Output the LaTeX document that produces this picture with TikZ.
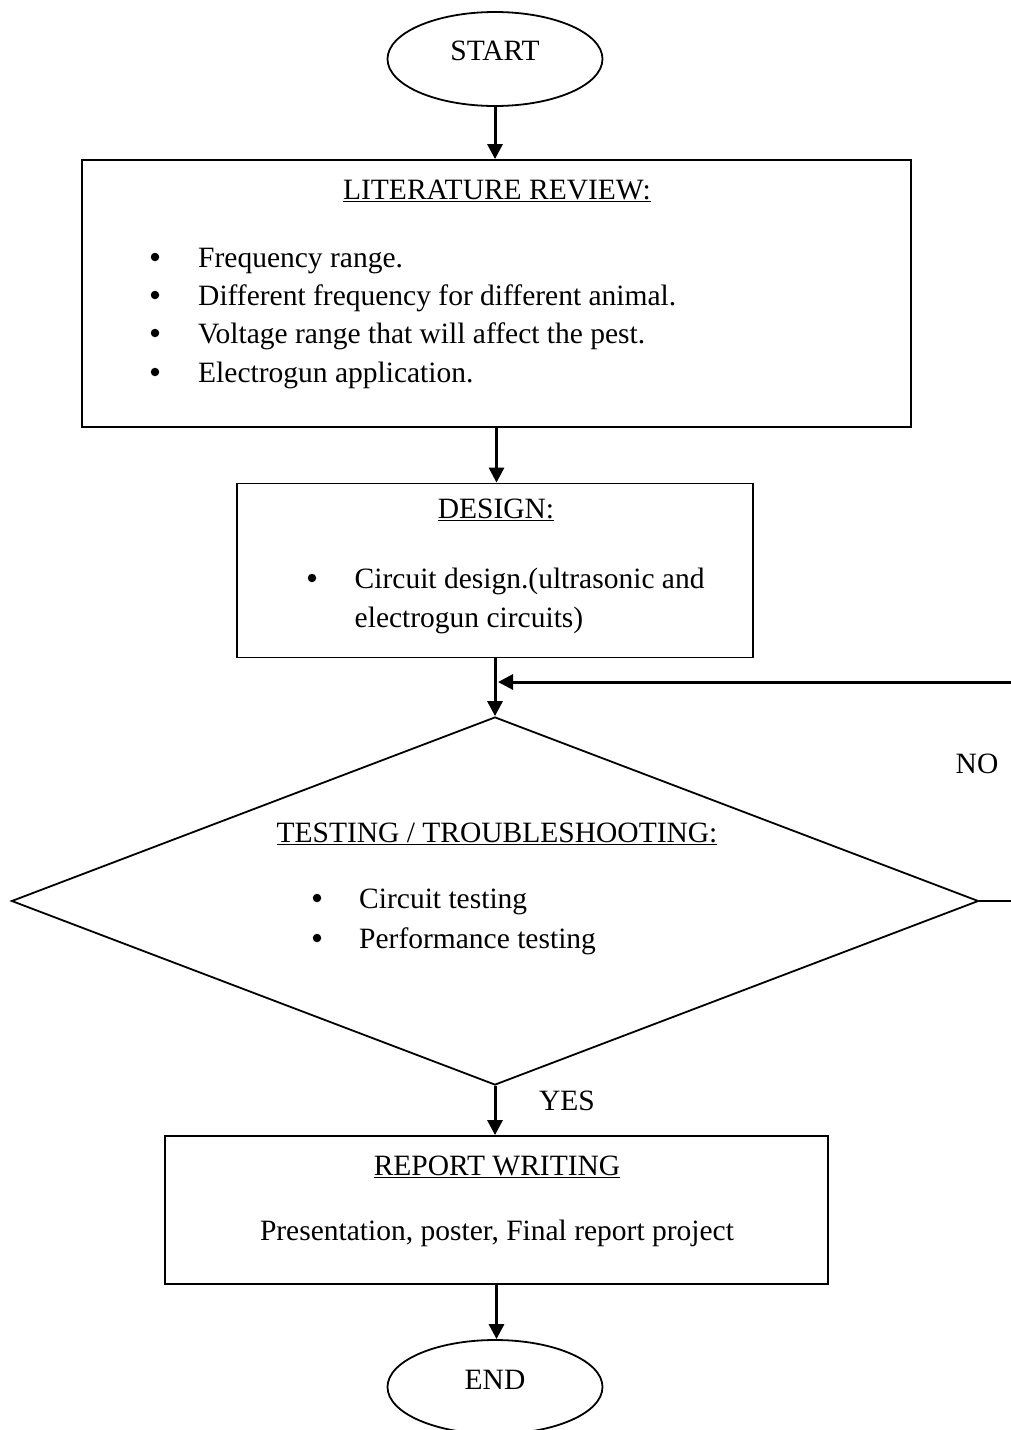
\documentclass[tikz,border=0pt]{standalone}
\usepackage{fontspec}
\setmainfont{Liberation Serif}
\usetikzlibrary{shapes.geometric, positioning, arrows.meta}

\begin{document}
\begin{tikzpicture}[x=1pt, y=-1pt,
    txt/.style={inner sep=0pt, font=\fontsize{29.5}{38}\selectfont},
    frame/.style={draw, line width=1.8pt, inner sep=0pt},
    dot/.style={circle, fill, inner sep=0pt, minimum size=8.5pt},
    link/.style={line width=1.8pt},
    flow/.style={line width=3pt, -{Triangle[length=15pt, width=15pt]}}]

    \useasboundingbox (0,0) rectangle (1011,1430);

    % --- TERMINALS ---
    \node[frame, ellipse, minimum width=215pt, minimum height=94pt] (start) at (495,59) {};
    \node[frame, ellipse, minimum width=215pt, minimum height=94pt] (end) at (495,1387) {};
    \node[txt, anchor=base] (startlbl) at (495,60) {START};
    \node[txt, anchor=base] (endlbl) at (495,1389) {END};

    % --- LITERATURE REVIEW BOX ---
    \node[frame, minimum width=829pt, minimum height=267pt] (lit) at (496.5,293.5) {};
    \node[txt, anchor=base] (littitle) at (497,199) {\underline{LITERATURE REVIEW:}};
    \node[txt, anchor=base west] (lit1) at (198,267) {Frequency range.};
    \node[txt, anchor=base west] (lit2) at (198,305) {Different frequency for different animal.};
    \node[txt, anchor=base west] (lit3) at (198,343) {Voltage range that will affect the pest.};
    \node[txt, anchor=base west] (lit4) at (198,382) {Electrogun application.};
    % bullets
    \node[dot] (lit1dot) at ([xshift=-43pt, yshift=10pt]lit1.base west) {};
    \node[dot] (lit2dot) at ([xshift=-43pt, yshift=10pt]lit2.base west) {};
    \node[dot] (lit3dot) at ([xshift=-43pt, yshift=10pt]lit3.base west) {};
    \node[dot] (lit4dot) at ([xshift=-43pt, yshift=10pt]lit4.base west) {};

    % --- DESIGN BOX ---
    \node[frame, minimum width=516pt, minimum height=174pt] (design) at (495,570.5) {};
    \node[txt, anchor=base] (designtitle) at (496,518) {\underline{DESIGN:}};
    \node[txt, anchor=base west] (design1) at (354.5,588) {Circuit design.(ultrasonic and};
    \node[txt, anchor=base west] (design2) at (354.5,627) {electrogun circuits)};
    \node[dot] (design1dot) at ([xshift=-42.5pt, yshift=10pt]design1.base west) {};

    % --- DECISION: TESTING ---
    \node[frame, diamond, minimum width=967pt, minimum height=368pt] (test) at (495,901) {};
    \node[txt, anchor=base] (testtitle) at (497,842) {\underline{TESTING / TROUBLESHOOTING:}};
    \node[txt, anchor=base west] (test1) at (359,908) {Circuit testing};
    \node[txt, anchor=base west] (test2) at (359,948) {Performance testing};
    \node[dot] (test1dot) at ([xshift=-42pt, yshift=10pt]test1.base west) {};
    \node[dot] (test2dot) at ([xshift=-42pt, yshift=10pt]test2.base west) {};

    % --- REPORT BOX ---
    \node[frame, minimum width=663pt, minimum height=148pt] (report) at (496.5,1210) {};
    \node[txt, anchor=base] (reporttitle) at (497,1175) {\underline{REPORT WRITING}};
    \node[txt, anchor=base] (reporttext) at (497,1240) {Presentation, poster, Final report project};

    % --- BRANCH LABELS ---
    \node[txt, anchor=base] (nolbl) at (977,773) {NO};
    \node[txt, anchor=base] (yeslbl) at (567,1110) {YES};

    % --- MAIN FLOW ---
    \draw[flow] (start.south) -- (start.south |- lit.north);
    \draw[flow] (lit.south) -- (lit.south |- design.north);
    \draw[flow] (design.south) -- (test.north);
    \draw[flow] (test.south) -- (test.south |- report.north);
    \draw[flow] (report.south) -- (report.south |- end.north);

    % --- NO LOOP (runs off the right edge) ---
    \coordinate (loopturn) at (1040,901);
    \coordinate (loopin) at (496.5,682);
    \draw[link] (test.east) -- (loopturn);
    \draw[flow] (loopturn) -- (loopturn |- loopin) -- ([xshift=1.5pt]loopin);

\end{tikzpicture}
\end{document}
